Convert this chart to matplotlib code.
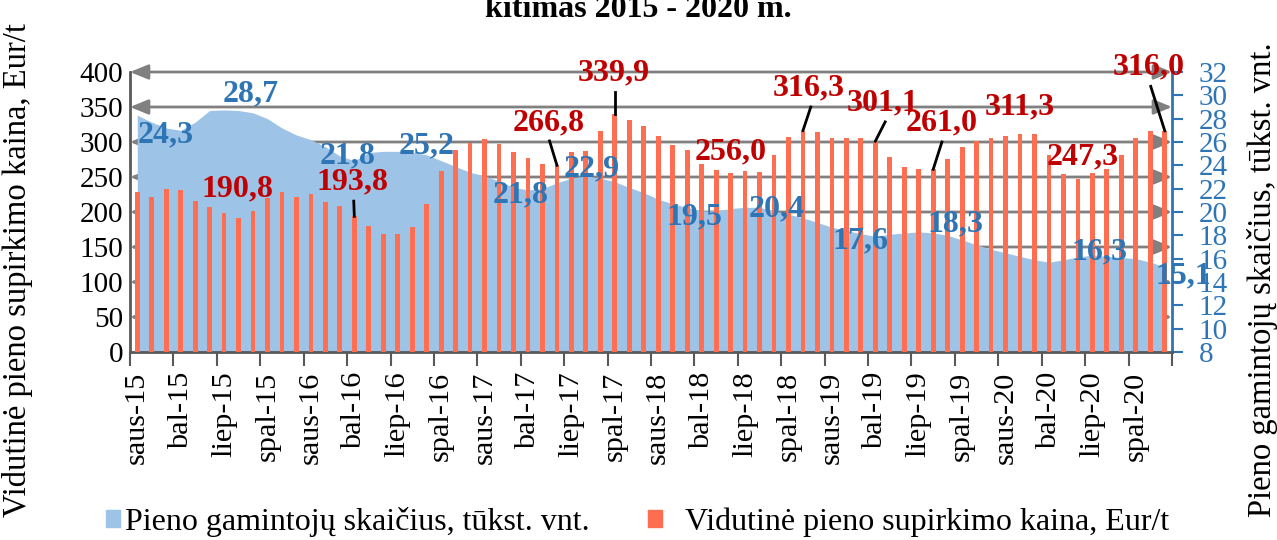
import numpy as np
import matplotlib.pyplot as plt
from matplotlib.patches import Patch

plt.rcParams['font.family'] = ['Liberation Serif', 'DejaVu Serif']

# monthly data, Jan 2015 - Dec 2020
price = [229, 222, 233, 232, 215, 207, 199, 190.8, 201, 220,
         228, 221, 226, 213.6, 208, 193.8, 180, 169, 169, 178,
         212, 259, 288.7, 299, 304, 297, 286, 277, 268, 266.8,
         286, 287, 316, 339.9, 332, 323, 308, 295, 288, 269,
         260, 256.0, 258, 257, 281.5, 307, 316.3, 314, 306, 306,
         305, 301.1, 279, 264, 262, 261.0, 275, 293, 302, 306,
         308, 311.3, 311, 282, 254, 247.3, 255, 262, 281.5, 305,
         315, 316.0]
producers = [28.3, 27.7, 27.2, 27.0, 27.7, 28.7, 28.75, 28.7, 28.5, 28.0,
             27.2, 26.6, 26.2, 25.6, 24.8, 24.4, 25.1, 25.2, 25.2, 25.1,
             24.9, 24.4, 23.9, 23.4, 23.1, 22.65, 22.1, 21.9, 22.0, 22.5,
             22.9, 23.1, 22.9, 22.6, 22.1, 21.65, 21.1, 20.7, 20.4, 20.1,
             20.1, 20.3, 20.4, 20.4, 20.1, 19.8, 19.5, 19.1, 18.7, 18.4,
             18.15, 17.9, 18.1, 18.2, 18.3, 18.2, 18.0, 17.6, 17.2, 16.8,
             16.5, 16.2, 15.9, 15.7, 15.9, 16.15, 16.3, 16.2, 16.1, 16.0,
             15.7, 15.3]
months = ['saus', 'bal', 'liep', 'spal']
years = ['15', '16', '17', '18', '19', '20']
tick_labels = [f'{m}-{y}' for y in years for m in months]

# labelled bars (month index)
price_label_idx = [7, 15, 29, 33, 41, 46, 51, 55, 61, 65, 71]
# labels of the producer series as printed on the chart
producer_labels = ['24,3', '28,7', '21,8', '25,2', '21,8', '22,9',
                   '19,5', '20,4', '17,6', '18,3', '16,3', '15,1']

# label placement (x index, baseline on the price scale)
price_label_pos = [(6.93, 221.6), (14.9, 232), (28.46, 317), (32.95, 387.5),
                   (40.97, 275), (46.4, 366), (51.5, 344.5), (55.55, 316),
                   (61.0, 340), (65.3, 268), (69.9, 397)]
leader_start = {15: (14.96, 215.5), 29: (28.49, 301.5), 33: (33.0, 371),
                46: (46.54, 350), 51: (51.68, 328.7), 55: (55.6, 300),
                71: (70.03, 379.5)}
producer_label_pos = [(1.99, 299), (7.86, 357.5), (14.53, 269.5), (20.0, 284),
                      (26.5, 214), (31.4, 251), (38.5, 182), (44.2, 194),
                      (50.0, 148.6), (56.55, 172.5), (66.5, 132), (72.3, 98.5)]

bar_color = '#FF6E50'
area_color = '#9DC3E6'
red = '#C00000'
blue = '#2E75B6'
grey = '#808080'

x = np.arange(len(price))

fig = plt.figure(figsize=(12.77, 5.4), dpi=100)
ax = fig.add_axes([130 / 1277, 188 / 540, 1042 / 1277, 280 / 540])
ax2 = ax.twinx()
ax.set_zorder(2)
ax2.set_zorder(1)
ax.patch.set_visible(False)

# area (right axis)
ax2.fill_between(x, 8, producers, color=area_color, lw=0, zorder=1)
ax2.set_ylim(8, 32)
ax2.set_yticks(range(8, 33, 2))
ax2.tick_params(axis='y', colors=blue, labelsize=21, length=8, width=1.5, pad=11)
for s in ['top', 'left', 'bottom']:
    ax2.spines[s].set_visible(False)
ax2.spines['right'].set_color(blue)
ax2.spines['right'].set_linewidth(2)

# gridlines with arrow ends, behind the area
for lev in range(50, 401, 50):
    ax2.annotate('', xy=(-0.5, lev), xytext=(71.5, lev), xycoords=ax.transData,
                 textcoords=ax.transData, annotation_clip=False, zorder=0.5,
                 arrowprops=dict(arrowstyle='<|-|>,head_length=1.1,head_width=0.45',
                                 color=grey, lw=2, shrinkA=0, shrinkB=0,
                                 mutation_scale=10))

# bars (left axis)
ax.bar(x, price, width=0.33, color=bar_color, zorder=3)
ax.set_xlim(-0.5, 71.5)
ax.set_ylim(0, 400)
ax.set_yticks(range(0, 401, 50))
ax.tick_params(axis='y', labelsize=21, length=0, pad=5)
ax.set_xticks(np.arange(0, 72, 3))
ax.set_xticklabels(tick_labels, rotation=90, fontsize=21.8)
ax.set_xticks(np.arange(-0.5, 72, 3), minor=True)
ax.tick_params(axis='x', which='major', length=0, pad=14)
ax.tick_params(axis='x', which='minor', length=10, width=1.5, color='#595959')
for s in ['top', 'right']:
    ax.spines[s].set_visible(False)
for s in ['left', 'bottom']:
    ax.spines[s].set_color('#595959')
    ax.spines[s].set_linewidth(2)

# data labels
for i, (lx, ly) in zip(price_label_idx, price_label_pos):
    txt = f'{price[i]:.1f}'.replace('.', ',')
    ax.text(lx, ly, txt, color=red, fontsize=23, fontweight='bold',
            ha='center', va='baseline', zorder=5, clip_on=False)
    if i in leader_start:
        sx, sy = leader_start[i]
        ax.plot([sx, i], [sy, price[i]], color='black', lw=2, zorder=4,
                clip_on=False)
for txt, (lx, ly) in zip(producer_labels, producer_label_pos):
    ax.text(lx, ly, txt, color=blue, fontsize=23, fontweight='bold',
            ha='center', va='baseline', zorder=5, clip_on=False)

# titles and axis labels
fig.text(0.5, 1 - 17 / 540, 'kitimas 2015 - 2020 m.', ha='center', va='baseline',
         fontsize=23, fontweight='bold')
fig.text(18 / 1277, 1 - 270 / 540, 'Vidutinė pieno supirkimo kaina, Eur/t',
         rotation=90, ha='center', va='center', fontsize=23.5)
fig.text(1262 / 1277, 1 - 280 / 540, 'Pieno gamintojų skaičius, tūkst. vnt.',
         rotation=90, ha='center', va='center', fontsize=23.5)

# legend
fig.legend(handles=[Patch(color=area_color, label='Pieno gamintojų skaičius, tūkst. vnt.')],
           loc='center left', bbox_to_anchor=(106 / 1277, 1 - 522 / 540), frameon=False,
           fontsize=23, handlelength=0.45, handleheight=0.45, handletextpad=0.15,
           borderpad=0, borderaxespad=0)
fig.legend(handles=[Patch(color=bar_color, label='Vidutinė pieno supirkimo kaina, Eur/t')],
           loc='center left', bbox_to_anchor=(648 / 1277, 1 - 522 / 540), frameon=False,
           fontsize=23, handlelength=0.45, handleheight=0.45, handletextpad=0.7,
           borderpad=0, borderaxespad=0)

fig.savefig('out.png', dpi=100)
